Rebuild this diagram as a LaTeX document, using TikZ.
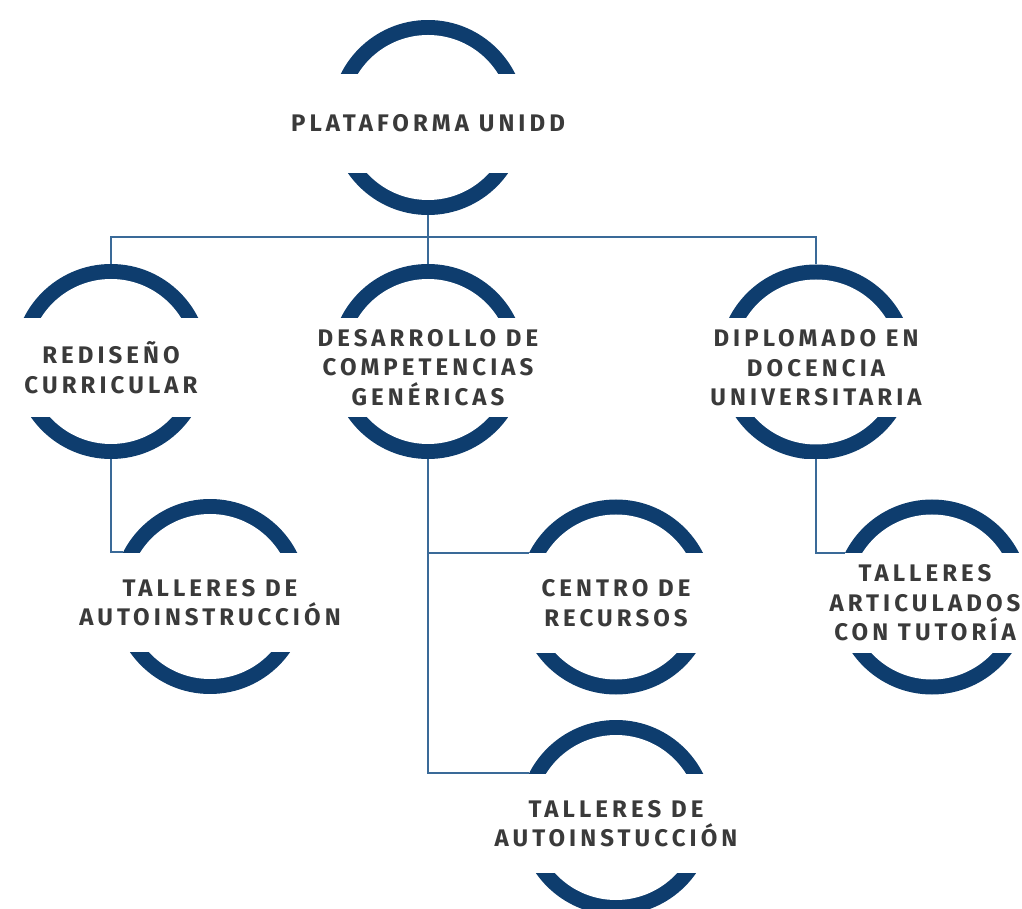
\documentclass[tikz,border=0pt]{standalone}
\usepackage{fontspec}
\newfontfamily\dinfont[LetterSpace=17]{Fira Sans}
\usetikzlibrary{calc}

\definecolor{arcblue}{HTML}{0E3D6E}
\definecolor{lineblue}{HTML}{3A6A98}
\definecolor{txtgray}{HTML}{3A3A3A}

\tikzset{
	ring/.style={circle, minimum size=195pt, inner sep=0pt, outer sep=0pt,
		path picture={
			\fill[arcblue] (path picture bounding box.north west) rectangle ([yshift=-54pt]path picture bounding box.north east);	% upper arc
			\fill[arcblue] (path picture bounding box.south west) rectangle ([yshift=42pt]path picture bounding box.south east);	% lower arc
			\fill[white] (path picture bounding box.center) circle (82.5pt);
		}},
	lbl/.style={align=center, text=txtgray, yshift=-6pt, font=\dinfont\bfseries\fontsize{24}{29.5}\selectfont},
	link/.style={draw=lineblue, line width=2pt}
}

\begin{document}
\begin{tikzpicture}[x=1pt, y=1pt]
		\useasboundingbox (0,0) rectangle (1022,908);
		\clip (0,0) rectangle (1022,908);
		
		% rings
		\node[ring] (plat) at (428,790.5) {};
		\node[ring] (redis) at (111,546.5) {};
		\node[ring] (desar) at (428,546.5) {};
		\node[ring] (diplo) at (816,546) {};
		\node[ring] (tall1) at (210,311.5) {};
		\node[ring] (centro) at (616,311) {};
		\node[ring] (tall2) at (616,90.5) {};
		\node[ring] (tallart) at (932,311) {};
		
		% texts
		\node[lbl] (plat-t) at (plat) {PLATAFORMA UNIDD};
		\node[lbl] (redis-t) at (redis) {REDISEÑO\\CURRICULAR};
		\node[lbl] (desar-t) at (desar) {DESARROLLO DE\\COMPETENCIAS\\GENÉRICAS};
		\node[lbl] (diplo-t) at (diplo) {DIPLOMADO EN\\DOCENCIA\\UNIVERSITARIA};
		\node[lbl] (tall1-t) at (tall1) {TALLERES DE\\AUTOINSTRUCCIÓN};
		\node[lbl] (centro-t) at (centro) {CENTRO DE\\RECURSOS};
		\node[lbl] (tall2-t) at (tall2) {TALLERES DE\\AUTOINSTUCCIÓN};
		\node[lbl, xshift=-7pt] (tallart-t) at (tallart) {TALLERES\\ARTICULADOS\\CON TUTORÍA};
		
		% connectors
		\coordinate (bar) at ($(plat.south)+(0,-22)$);
		\draw[link] (plat.south) -- (desar.north);
		\draw[link] (redis.north) |- (bar) -| (diplo.north);
		\draw[link] (redis.south) |- (tall1.153.5);
		\draw[link] (desar.south) |- (centro.153.5);
		\draw[link] (desar.south) |- (tall2.153.5);
		\draw[link] (diplo.south) |- (tallart.153.5);
\end{tikzpicture}
\end{document}
